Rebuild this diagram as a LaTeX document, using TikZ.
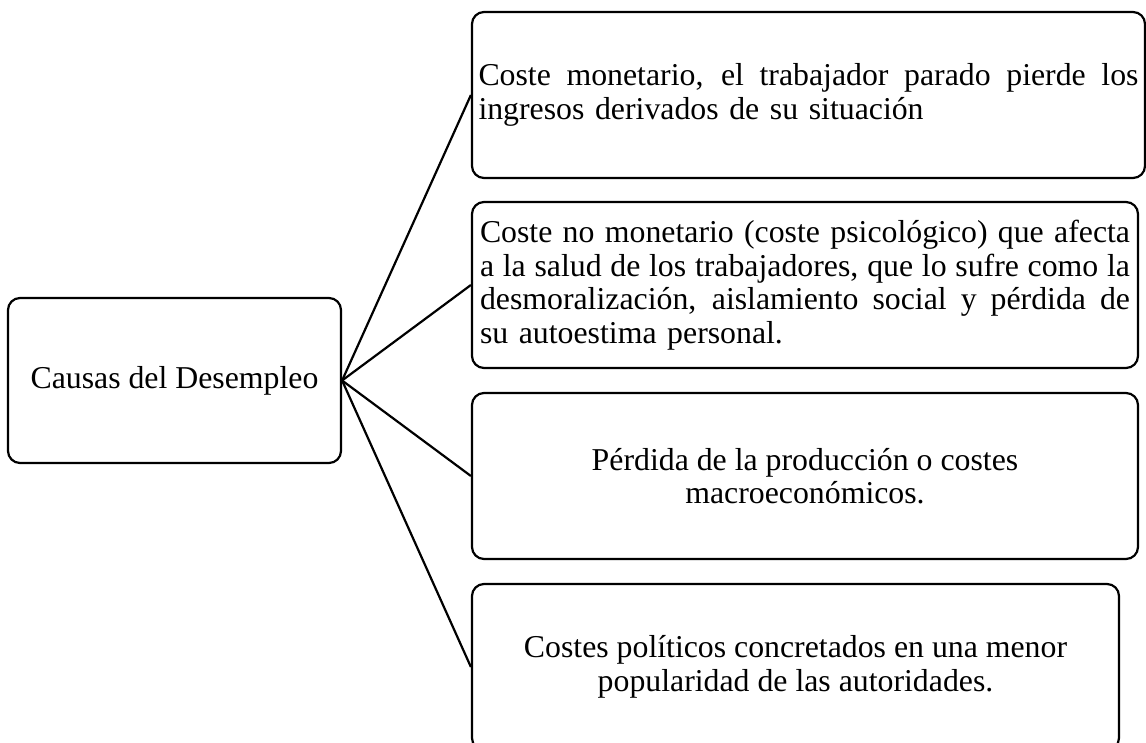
\documentclass[tikz,border=0pt]{standalone}
\usepackage{fontspec}
\setmainfont{Liberation Serif}
\newcommand\jline[2]{\leavevmode\hbox to #1{\spaceskip=0.25em plus 1fil minus 0.1em\relax #2}}
\begin{document}
\begin{tikzpicture}[x=1pt,y=-1pt,
  box/.style={draw, line width=2.2pt, rounded corners=12pt, inner sep=0pt,
    minimum height=166pt, font=\fontsize{31.8}{33.5}\selectfont},
  conn/.style={line width=2.2pt}]
\useasboundingbox (0,0) rectangle (1146,743);
\clip (0,0) rectangle (1146,743);
\node[box, minimum width=333pt, minimum height=165pt] (root) at (174.5,380.5) {Causas del Desempleo};
\node[box, minimum width=673pt, text width=660pt, align=left] (b1) at (808.5,95)
  {\jline{660pt}{Coste monetario, el trabajador parado pierde los}\\ingresos derivados de su situación};
\node[box, minimum width=666pt, text width=650pt, align=left] (b2) at (805,285)
  {\jline{650pt}{Coste no monetario (coste psicológico) que afecta}\\
   \jline{650pt}{a la salud de los trabajadores, que lo sufre como la}\\
   \jline{650pt}{desmoralización, aislamiento social y pérdida de}\\
   su autoestima personal.};
\node[box, minimum width=666pt, align=center] (b3) at (805,476)
  {Pérdida de la producción o costes\\macroeconómicos.};
\node[box, minimum width=647pt, align=center] (b4) at (795.5,667)
  {Costes políticos concretados en una menor\\popularidad de las autoridades.};
\draw[conn] (root.east) -- (b1.west);
\draw[conn] (root.east) -- (b2.west);
\draw[conn] (root.east) -- (b3.west);
\draw[conn] (root.east) -- (b4.west);
\end{tikzpicture}
\end{document}
